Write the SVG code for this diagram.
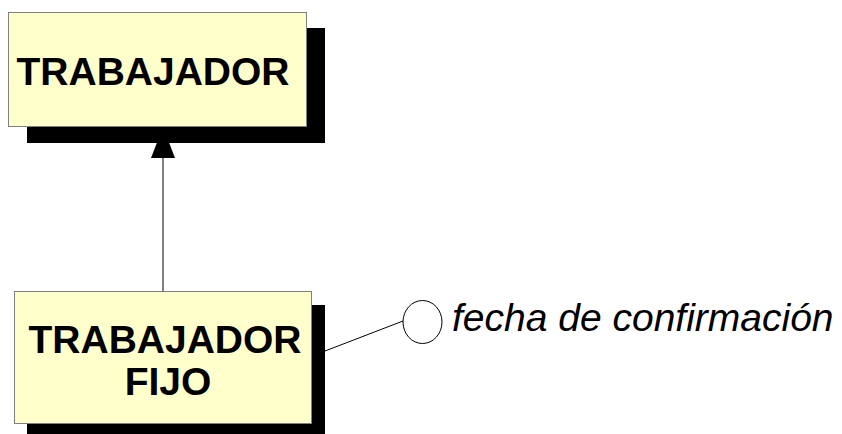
<svg xmlns="http://www.w3.org/2000/svg" width="842" height="434" viewBox="0 0 842 434">
<style>
.shadow{fill:#000}
.box{fill:#ffffcc;stroke:#808080;stroke-width:1}
.lbl{font-family:"Liberation Sans",Arial,sans-serif;font-weight:bold;font-size:39px;fill:#000;text-anchor:middle}
.attr{font-family:"Liberation Sans",Arial,sans-serif;font-style:italic;font-size:39px;fill:#000}
.ln{stroke:#000;stroke-width:1;fill:none}
</style>
<rect width="842" height="434" fill="#fff"/>
<g id="connectors">
<line class="ln" x1="163" y1="158" x2="163" y2="291"/>
<polygon points="163,127 151,158 175,158" fill="#000"/>
<line class="ln" x1="312" y1="356" x2="403" y2="321"/>
</g>
<g id="trabajador">
<rect class="shadow" x="27" y="28" width="298" height="115"/>
<rect class="box" x="8.5" y="12.5" width="298" height="114"/>
<text class="lbl" x="153" y="85">TRABAJADOR</text>
</g>
<g id="trabajador-fijo">
<rect class="shadow" x="27" y="305" width="298" height="129"/>
<rect class="box" x="14.5" y="291.5" width="297" height="132"/>
<text class="lbl" x="165" y="353">TRABAJADOR</text>
<text class="lbl" x="168" y="395">FIJO</text>
</g>
<g id="fecha-de-confirmacion">
<ellipse cx="422.5" cy="322" rx="19.5" ry="21.5" fill="#fff" stroke="#000" stroke-width="1"/>
<text class="attr" x="452" y="331">fecha de confirmación</text>
</g>
</svg>
